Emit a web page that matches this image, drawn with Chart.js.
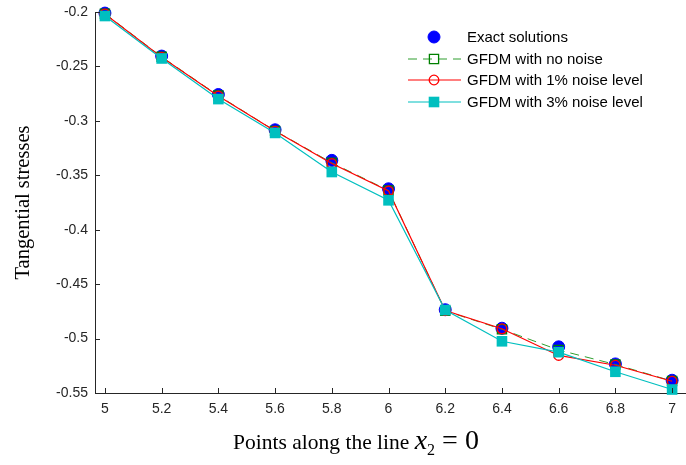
<!DOCTYPE html>
<html>
<head>
<meta charset="utf-8">
<script src="https://cdn.jsdelivr.net/npm/chart.js@4.4.1/dist/chart.umd.min.js"></script>
<style>
  body { margin: 0; background: #fff; }
  canvas { display: block; }
</style>
</head>
<body>
<canvas id="stressChart" width="686" height="465"></canvas>
<script>
// points along the line x2 = 0
const xValues = [5, 5.2, 5.4, 5.6, 5.8, 6, 6.2, 6.4, 6.6, 6.8, 7];
const xTicks = [5, 5.2, 5.4, 5.6, 5.8, 6, 6.2, 6.4, 6.6, 6.8, 7];
const yTicks = [-0.55, -0.5, -0.45, -0.4, -0.35, -0.3, -0.25, -0.2];

const exact   = [-0.2010, -0.2405, -0.2758, -0.3082, -0.3363, -0.3624, -0.4735, -0.4905, -0.5076, -0.5233, -0.5383];
const noNoise = [-0.2015, -0.2412, -0.2768, -0.3092, -0.3385, -0.3640, -0.4745, -0.4915, -0.5105, -0.5238, -0.5390];
const noise1  = [-0.2018, -0.2415, -0.2772, -0.3094, -0.3392, -0.3645, -0.4742, -0.4910, -0.5155, -0.5245, -0.5392];
const noise3  = [-0.2037, -0.2427, -0.2800, -0.3111, -0.3470, -0.3730, -0.4738, -0.5025, -0.5125, -0.5305, -0.5468];

const toXY = arr => xValues.map((x, i) => ({ x: x, y: arr[i] }));
const axisColor = '#262626';
const tickFont = { family: '"Liberation Sans", Arial, sans-serif', size: 14 };

// MATLAB style legend: line sample + marker, no box
const legendPlugin = {
  id: 'matlabLegend',
  afterDraw(chart) {
    const ctx = chart.ctx;
    const rows = [37, 59, 80, 102];
    chart.data.datasets.forEach((ds, i) => {
      const y = rows[i];
      ctx.save();
      if (ds.showLine !== false) {
        ctx.strokeStyle = ds.borderColor;
        ctx.lineWidth = ds.borderWidth;
        ctx.setLineDash(ds.borderDash || []);
        ctx.beginPath();
        ctx.moveTo(408, y);
        ctx.lineTo(461, y);
        ctx.stroke();
      }
      ctx.setLineDash([]);
      ctx.fillStyle = ds.pointBackgroundColor;
      ctx.strokeStyle = ds.pointBorderColor;
      ctx.lineWidth = ds.pointBorderWidth;
      Chart.helpers.drawPoint(ctx, { pointStyle: ds.pointStyle, radius: ds.pointRadius, borderWidth: ds.pointBorderWidth }, 434, y);
      ctx.fillStyle = '#000';
      ctx.font = '15px "Liberation Sans", Arial, sans-serif';
      ctx.textBaseline = 'middle';
      ctx.fillText(ds.label, 467, y + 1);
      ctx.restore();
    });
  }
};

// inward tick marks and the x axis title with math part
const axisPlugin = {
  id: 'matlabAxes',
  afterDraw(chart) {
    const ctx = chart.ctx;
    const xs = chart.scales.x, ys = chart.scales.y;
    const a = chart.chartArea;
    ctx.save();
    ctx.strokeStyle = axisColor;
    ctx.lineWidth = 1;
    ctx.beginPath();
    xTicks.forEach(v => {
      const px = Math.round(xs.getPixelForValue(v)) + 0.5;
      ctx.moveTo(px, a.bottom);
      ctx.lineTo(px, a.bottom - 5);
    });
    yTicks.forEach(v => {
      const py = Math.round(ys.getPixelForValue(v)) + 0.5;
      ctx.moveTo(a.left, py);
      ctx.lineTo(a.left + 5, py);
    });
    ctx.stroke();

    // "Points along the line x2 = 0"
    const serif = '"Liberation Serif", "Times New Roman", serif';
    const parts = [
      { t: 'Points along the line ', f: '21.5px ' + serif, dy: 0 },
      { t: 'x', f: 'italic 28px ' + serif, dy: 0 },
      { t: '2', f: '16px ' + serif, dy: 6 },
      { t: ' = 0', f: '28px ' + serif, dy: 0 }
    ];
    let total = 0;
    parts.forEach(p => { ctx.font = p.f; p.w = ctx.measureText(p.t).width; total += p.w; });
    let x = 356 - total / 2;
    const base = 449;
    ctx.fillStyle = '#000';
    ctx.textBaseline = 'alphabetic';
    parts.forEach(p => {
      ctx.font = p.f;
      ctx.fillText(p.t, x, base + p.dy);
      x += p.w;
    });
    ctx.restore();
  }
};

const ctx = document.getElementById('stressChart').getContext('2d');
new Chart(ctx, {
  type: 'line',
  data: {
    datasets: [
      {
        label: 'Exact solutions',
        data: toXY(exact),
        showLine: false,
        borderColor: '#0000ff',
        borderWidth: 1,
        pointStyle: 'circle',
        pointRadius: 6,
        pointBackgroundColor: '#0000ff',
        pointBorderColor: '#0000ff',
        pointBorderWidth: 1,
        order: 4
      },
      {
        label: 'GFDM with no noise',
        data: toXY(noNoise),
        borderColor: '#2e9e2e',
        borderWidth: 1,
        borderDash: [9, 6],
        pointStyle: 'rect',
        pointRadius: 6.5,
        pointBackgroundColor: 'rgba(0,0,0,0)',
        pointBorderColor: '#008000',
        pointBorderWidth: 1.3,
        order: 3
      },
      {
        label: 'GFDM with 1% noise level',
        data: toXY(noise1),
        borderColor: '#ff0000',
        borderWidth: 1.2,
        pointStyle: 'circle',
        pointRadius: 4.8,
        pointBackgroundColor: 'rgba(0,0,0,0)',
        pointBorderColor: '#ff0000',
        pointBorderWidth: 1.3,
        order: 2
      },
      {
        label: 'GFDM with 3% noise level',
        data: toXY(noise3),
        borderColor: '#00bfbf',
        borderWidth: 1.2,
        pointStyle: 'rect',
        pointRadius: 7.5,
        pointBackgroundColor: '#00bfbf',
        pointBorderColor: '#00bfbf',
        pointBorderWidth: 0,
        order: 1
      }
    ]
  },
  options: {
    responsive: false,
    animation: false,
    devicePixelRatio: 1,
    clip: false,
    tension: 0,
    layout: { autoPadding: false, padding: { top: 12, right: 0, left: 0, bottom: 0 } },
    plugins: {
      legend: { display: false },
      tooltip: { enabled: false }
    },
    scales: {
      x: {
        type: 'linear',
        min: 4.965,
        max: 7.049,
        afterBuildTicks: s => { s.ticks = xTicks.map(v => ({ value: v })); },
        afterFit: s => { s.height = 72; s.paddingLeft = 0; s.paddingRight = 0; },
        grid: { display: true, drawOnChartArea: false, drawTicks: false },
        border: { display: true, color: axisColor, width: 1 },
        ticks: {
          padding: 8,
          color: axisColor,
          maxRotation: 0,
          autoSkip: false,
          font: tickFont,
          callback: v => String(v)
        },
        title: { display: false }
      },
      y: {
        min: -0.55,
        max: -0.2,
        afterBuildTicks: s => { s.ticks = yTicks.map(v => ({ value: v })); },
        afterFit: s => { s.width = 95; s.paddingTop = 0; s.paddingBottom = 0; },
        grid: { display: true, drawOnChartArea: false, drawTicks: false },
        border: { display: true, color: axisColor, width: 1 },
        ticks: {
          padding: 7,
          color: axisColor,
          autoSkip: false,
          font: tickFont,
          callback: v => String(v)
        },
        title: {
          display: true,
          text: 'Tangential stresses',
          color: '#000',
          font: { family: '"Liberation Serif", "Times New Roman", serif', size: 20.5 },
          padding: { top: 11, bottom: 0 }
        }
      }
    }
  },
  plugins: [legendPlugin, axisPlugin]
});
</script>
</body>
</html>
